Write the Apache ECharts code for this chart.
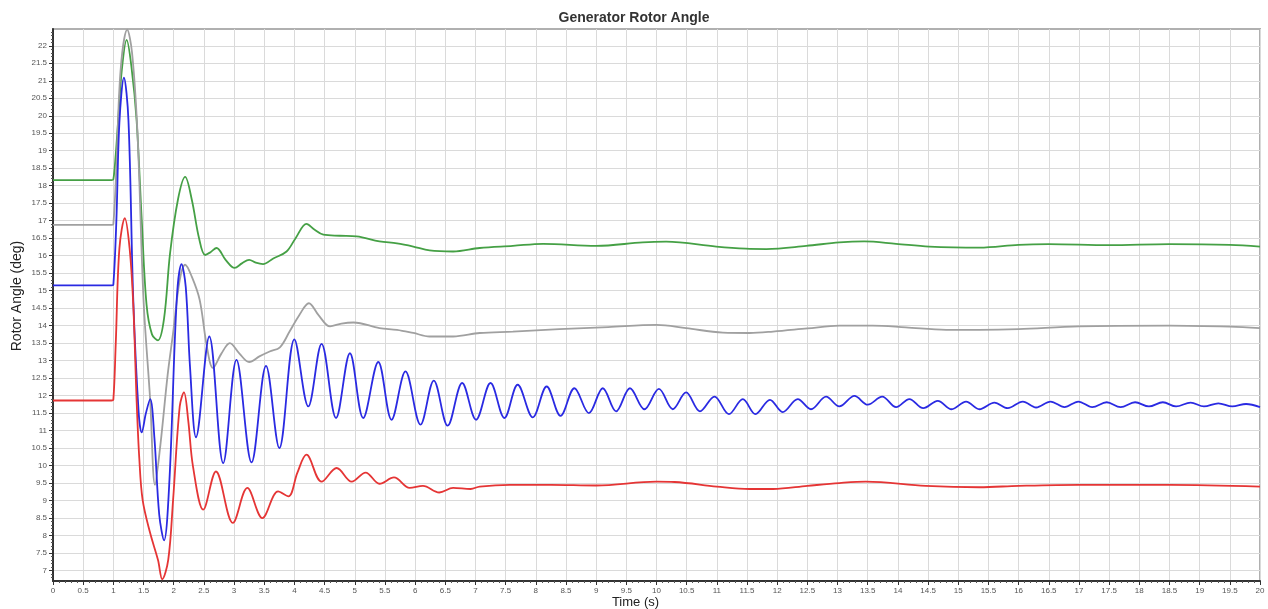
<!DOCTYPE html>
<html>
<head>
<meta charset="utf-8">
<script src="https://cdn.jsdelivr.net/npm/echarts@6/dist/echarts.min.js"></script>
<style>
html,body{margin:0;padding:0;background:#fff;}
#chart{width:1268px;height:609px;}
</style>
</head>
<body>
<div id="chart"></div>
<script>
// Time (s), rotor angle (deg) pairs
const greenData = [[0,18.16],[0.97,18.16],[1.0,18.18],[1.04,18.9],[1.08,19.88],[1.14,21.3],[1.22,22.17],[1.3,21.4],[1.385,19.88],[1.47,17.03],[1.55,14.6],[1.64,13.75],[1.74,13.58],[1.84,14.2],[1.94,16.07],[2.07,17.6],[2.19,18.25],[2.3,17.6],[2.42,16.5],[2.52,16.02],[2.61,16.1],[2.71,16.22],[2.86,15.88],[3.01,15.65],[3.13,15.78],[3.25,15.88],[3.36,15.8],[3.48,15.76],[3.65,15.92],[3.87,16.12],[4.02,16.5],[4.2,16.91],[4.33,16.75],[4.48,16.6],[4.75,16.57],[5.03,16.55],[5.41,16.41],[5.7,16.35],[5.97,16.26],[6.24,16.15],[6.63,16.12],[7.07,16.22],[7.62,16.28],[8.12,16.34],[9.0,16.28],[9.77,16.38],[10.16,16.4],[10.99,16.26],[11.48,16.2],[11.82,16.19],[12.48,16.28],[13.03,16.38],[13.44,16.41],[13.97,16.34],[14.52,16.26],[15.35,16.23],[16.0,16.31],[16.5,16.33],[17.5,16.3],[18.5,16.33],[19.5,16.31],[20,16.26]];

const grayData = [[0,16.88],[0.97,16.88],[1.0,16.9],[1.05,18.5],[1.12,21.3],[1.23,22.46],[1.31,21.8],[1.4,19.5],[1.5,14.74],[1.61,11.88],[1.69,9.45],[1.78,10.6],[1.9,12.6],[1.99,13.79],[2.1,15.3],[2.19,15.74],[2.3,15.4],[2.43,14.74],[2.55,13.4],[2.65,12.79],[2.79,13.2],[2.93,13.5],[3.09,13.2],[3.25,12.96],[3.42,13.12],[3.59,13.26],[3.76,13.38],[3.92,13.83],[4.08,14.3],[4.24,14.64],[4.4,14.3],[4.59,13.98],[4.78,14.06],[4.98,14.09],[5.41,13.93],[5.7,13.88],[5.97,13.79],[6.24,13.69],[6.63,13.69],[7.07,13.79],[7.62,13.83],[8.39,13.9],[9.2,13.96],[10.0,14.02],[10.49,13.93],[11.1,13.8],[11.54,13.79],[11.93,13.83],[12.5,13.92],[13.03,14.0],[13.58,14.0],[14.13,13.95],[14.8,13.88],[15.35,13.88],[16.0,13.9],[17.0,13.98],[18.5,14.0],[19.5,13.97],[20,13.93]];

const blueData = [[0,15.15],[0.97,15.15],[1.0,15.17],[1.05,17.0],[1.1,19.8],[1.175,21.09],[1.25,19.88],[1.33,14.74],[1.42,11.5],[1.47,10.95],[1.54,11.5],[1.61,11.9],[1.68,10.8],[1.76,8.6],[1.84,7.86],[1.93,9.6],[2.05,14.74],[2.13,15.76],[2.2,15.1],[2.27,12.83],[2.37,10.81],[2.59,13.69],[2.82,10.07],[3.04,13.02],[3.29,10.09],[3.53,12.85],[3.75,10.5],[4.0,13.61],[4.23,11.69],[4.45,13.48],[4.69,11.36],[4.92,13.21],[5.14,11.36],[5.39,12.96],[5.61,11.31],[5.84,12.69],[6.09,11.17],[6.31,12.43],[6.54,11.14],[6.78,12.36],[7.01,11.31],[7.25,12.36],[7.48,11.36],[7.70,12.31],[7.95,11.38],[8.18,12.26],[8.41,11.42],[8.64,12.21],[8.88,11.5],[9.11,12.21],[9.33,11.55],[9.56,12.21],[9.80,11.61],[10.04,12.19],[10.27,11.61],[10.49,12.09],[10.72,11.55],[10.96,11.97],[11.2,11.47],[11.43,11.9],[11.64,11.47],[11.88,11.88],[12.09,11.53],[12.34,11.9],[12.56,11.61],[12.81,11.97],[13.03,11.69],[13.28,11.99],[13.5,11.74],[13.74,11.97],[13.97,11.67],[14.19,11.9],[14.42,11.64],[14.66,11.85],[14.89,11.61],[15.13,11.83],[15.35,11.61],[15.6,11.8],[15.82,11.64],[16.07,11.83],[16.29,11.66],[16.53,11.83],[16.76,11.67],[16.99,11.83],[17.22,11.67],[17.46,11.81],[17.69,11.67],[17.93,11.81],[18.16,11.69],[18.39,11.81],[18.61,11.69],[18.85,11.8],[19.07,11.69],[19.31,11.78],[19.54,11.69],[19.77,11.76],[20,11.67]];

const redData = [[0,11.86],[0.97,11.86],[1.0,11.88],[1.04,13.5],[1.1,16.2],[1.19,17.07],[1.27,16.2],[1.33,14.6],[1.385,11.88],[1.43,10.2],[1.485,9.02],[1.61,8.07],[1.74,7.3],[1.81,6.75],[1.91,7.31],[1.99,9.02],[2.1,11.69],[2.17,12.09],[2.24,11.3],[2.32,9.97],[2.49,8.74],[2.70,9.83],[2.98,8.36],[3.22,9.36],[3.47,8.5],[3.73,9.26],[3.90,9.12],[4.05,9.8],[4.2,10.31],[4.45,9.54],[4.70,9.93],[4.95,9.54],[5.18,9.80],[5.41,9.48],[5.65,9.66],[5.91,9.36],[6.13,9.42],[6.4,9.23],[6.63,9.36],[6.92,9.33],[7.07,9.4],[7.57,9.45],[8.25,9.45],[9.0,9.43],[10.0,9.54],[10.3,9.53],[11.0,9.4],[11.54,9.33],[11.93,9.33],[12.5,9.42],[13.03,9.5],[13.47,9.54],[14.46,9.42],[15.35,9.38],[16.0,9.42],[17.0,9.45],[18.5,9.45],[20,9.4]];

// y-axis tick labels (every 0.5 deg)
const yTickValues = [7,7.5,8,8.5,9,9.5,10,10.5,11,11.5,12,12.5,13,13.5,14,14.5,15,15.5,16,16.5,17,17.5,18,18.5,19,19.5,20,20.5,21,21.5,22];

const seriesNames = ['Gen 1', 'Gen 2', 'Gen 3', 'Gen 4'];
const seriesColors = ['#45a045', '#a0a0a0', '#2a2ae2', '#e53535'];
const seriesData = [greenData, grayData, blueData, redData];

// minor tick positions on the y axis (0.1 deg steps between the labelled ticks)
const yMinorTicks = [];
for (let i = 0; i < yTickValues.length; i++) {
  for (let k = -4; k <= 4; k++) {
    const v = Math.round((yTickValues[i] + k * 0.1) * 10) / 10;
    if (v > 6.7 && v < 22.48 && yMinorTicks.indexOf(v) < 0 && yTickValues.indexOf(v) < 0) yMinorTicks.push(v);
  }
}

const chart = echarts.init(document.getElementById('chart'), null, {renderer: 'canvas'});
const font = '"Liberation Sans", Arial, sans-serif';
const Y_MIN = 6.7, Y_MAX = 22.48;

const option = {
  animation: false,
  backgroundColor: '#fff',
  title: {
    text: 'Generator Rotor Angle',
    left: 'center',
    top: 6,
    textStyle: {fontSize: 14, fontWeight: 'bold', color: '#333', fontFamily: font}
  },
  grid: {
    left: 53, right: 8, top: 29, bottom: 28,
    outerBoundsMode: 'none',
    show: true, borderColor: '#b0b0b0', borderWidth: 2, backgroundColor: '#fff'
  },
  xAxis: {
    type: 'value',
    min: 0, max: 20, interval: 0.5,
    name: 'Time (s)',
    nameLocation: 'middle',
    nameGap: 15,
    nameMoveOverlap: false,
    nameTextStyle: {fontSize: 13, color: '#222', fontFamily: font, padding: [0, 42, 0, 0]},
    axisLine: {show: true, lineStyle: {color: '#333', width: 2}},
    axisTick: {show: true, length: 4, lineStyle: {color: '#333'}},
    minorTick: {show: true, splitNumber: 5, length: 2, lineStyle: {color: '#555'}},
    axisLabel: {fontSize: 8, color: '#555', margin: 6, fontFamily: font},
    splitLine: {show: true, lineStyle: {color: '#dadada', width: 1}}
  },
  yAxis: [{
    type: 'value',
    min: Y_MIN, max: Y_MAX,
    name: 'Rotor Angle (deg)',
    nameLocation: 'middle',
    nameGap: 29,
    nameMoveOverlap: false,
    nameTextStyle: {fontSize: 14, color: '#222', fontFamily: font, padding: [0, 0, 0, 18]},
    axisLine: {show: true, lineStyle: {color: '#333', width: 2}},
    axisTick: {show: true, length: 4, lineStyle: {color: '#333'}, customValues: yTickValues},
    minorTick: {show: false},
    axisLabel: {
      fontSize: 8, color: '#555', margin: 6, fontFamily: font,
      customValues: yTickValues
    },
    splitLine: {show: true, lineStyle: {color: '#dadada', width: 1}}
  }, {
    type: 'value',
    min: Y_MIN, max: Y_MAX,
    position: 'left',
    axisLine: {show: false},
    axisTick: {show: true, length: 2, lineStyle: {color: '#555'}, customValues: yMinorTicks},
    axisLabel: {show: false},
    splitLine: {show: false}
  }],
  series: seriesData.map(function (d, i) {
    return {
      name: seriesNames[i],
      type: 'line',
      data: d,
      yAxisIndex: 0,
      smooth: 0.35,
      showSymbol: false,
      symbol: 'none',
      clip: true,
      lineStyle: {color: seriesColors[i], width: 1.8},
      itemStyle: {color: seriesColors[i]}
    };
  })
};
chart.setOption(option);
</script>
</body>
</html>
